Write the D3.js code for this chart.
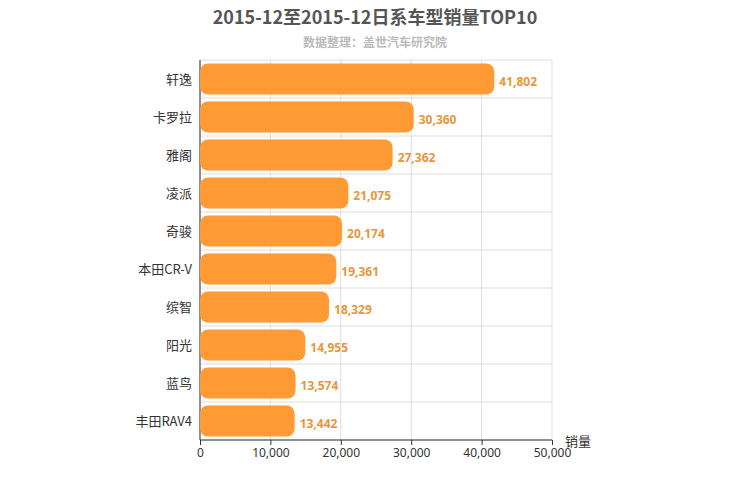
<!DOCTYPE html>
<html><head><meta charset="utf-8">
<script src="https://cdn.jsdelivr.net/npm/d3@7"></script>
<style>body{margin:0;background:#fff;font-family:"Noto Sans CJK SC","Noto Sans",sans-serif;}</style>
</head><body><div id="chart"></div>
<script>
var categories = ["轩逸","卡罗拉","雅阁","凌派","奇骏","本田CR-V","缤智","阳光","蓝鸟","丰田RAV4"];
var sales = [41802,30360,27362,21075,20174,19361,18329,14955,13574,13442];
var ticks = [0,10000,20000,30000,40000,50000];

var width = 750, height = 500;
var mLeft = 200, mRight = 552, mTop = 60, mBottom = 440;
var svg = d3.select("#chart").append("svg").attr("width", width).attr("height", height);

var x = d3.scaleLinear().domain([0,50000]).range([mLeft,mRight]);
var y = d3.scaleBand().domain(categories).range([mTop,mBottom]).paddingInner(0.18).paddingOuter(0.09);

svg.append("text").attr("x",375).attr("y",24).attr("text-anchor","middle")
  .attr("font-size",18).attr("font-weight","bold").attr("fill","#555")
  .text("2015-12至2015-12日系车型销量TOP10");
svg.append("text").attr("x",375).attr("y",47).attr("text-anchor","middle")
  .attr("font-size",12).attr("font-weight","bold").attr("fill","#bbb").text("数据整理：盖世汽车研究院");

// grid
svg.selectAll(".vg").data(ticks).enter().append("line")
  .attr("x1",d=>x(d)).attr("x2",d=>x(d)).attr("y1",mTop).attr("y2",mBottom)
  .attr("stroke","#ddd");
var step = (mBottom-mTop)/categories.length;
svg.selectAll(".hg").data(d3.range(categories.length+1)).enter().append("line")
  .attr("x1",mLeft).attr("x2",mRight).attr("y1",d=>mTop+d*step).attr("y2",d=>mTop+d*step)
  .attr("stroke","#ddd");

svg.append("line").attr("x1",mLeft).attr("x2",mRight).attr("y1",mBottom).attr("y2",mBottom).attr("stroke","#333");
svg.append("line").attr("x1",mLeft).attr("x2",mLeft).attr("y1",mTop).attr("y2",mBottom).attr("stroke","#333");

var xa = svg.append("g").attr("transform","translate(0,"+mBottom+")")
  .call(d3.axisBottom(x).tickValues(ticks).tickFormat(d3.format(",")).tickSize(5));
xa.select(".domain").remove();
xa.selectAll("text").attr("font-size",12).attr("fill","#333").attr("font-family","Noto Sans, sans-serif");
xa.selectAll("line").attr("stroke","#333");

svg.selectAll(".cat").data(categories).enter().append("text")
  .attr("x",mLeft-8).attr("y",d=>y(d)+y.bandwidth()/2).attr("dy","0.35em")
  .attr("text-anchor","end").attr("font-size",13).attr("fill","#333").text(d=>d);

svg.selectAll(".bar").data(sales).enter().append("rect")
  .attr("x",mLeft).attr("y",(d,i)=>y(categories[i]))
  .attr("width",d=>x(d)-mLeft).attr("height",y.bandwidth())
  .attr("rx",8).attr("ry",8).attr("fill","#ff9a35");

svg.selectAll(".val").data(sales).enter().append("text")
  .attr("x",d=>x(d)+5).attr("y",(d,i)=>y(categories[i])+y.bandwidth()/2+3).attr("dy","0.35em")
  .attr("font-size",12).attr("font-weight","bold").attr("fill","#e8963a")
  .attr("font-family","Noto Sans, sans-serif").text(d=>d3.format(",")(d));

svg.append("text").attr("x",565).attr("y",446).attr("font-size",13).attr("fill","#333").text("销量");
</script></body></html>
